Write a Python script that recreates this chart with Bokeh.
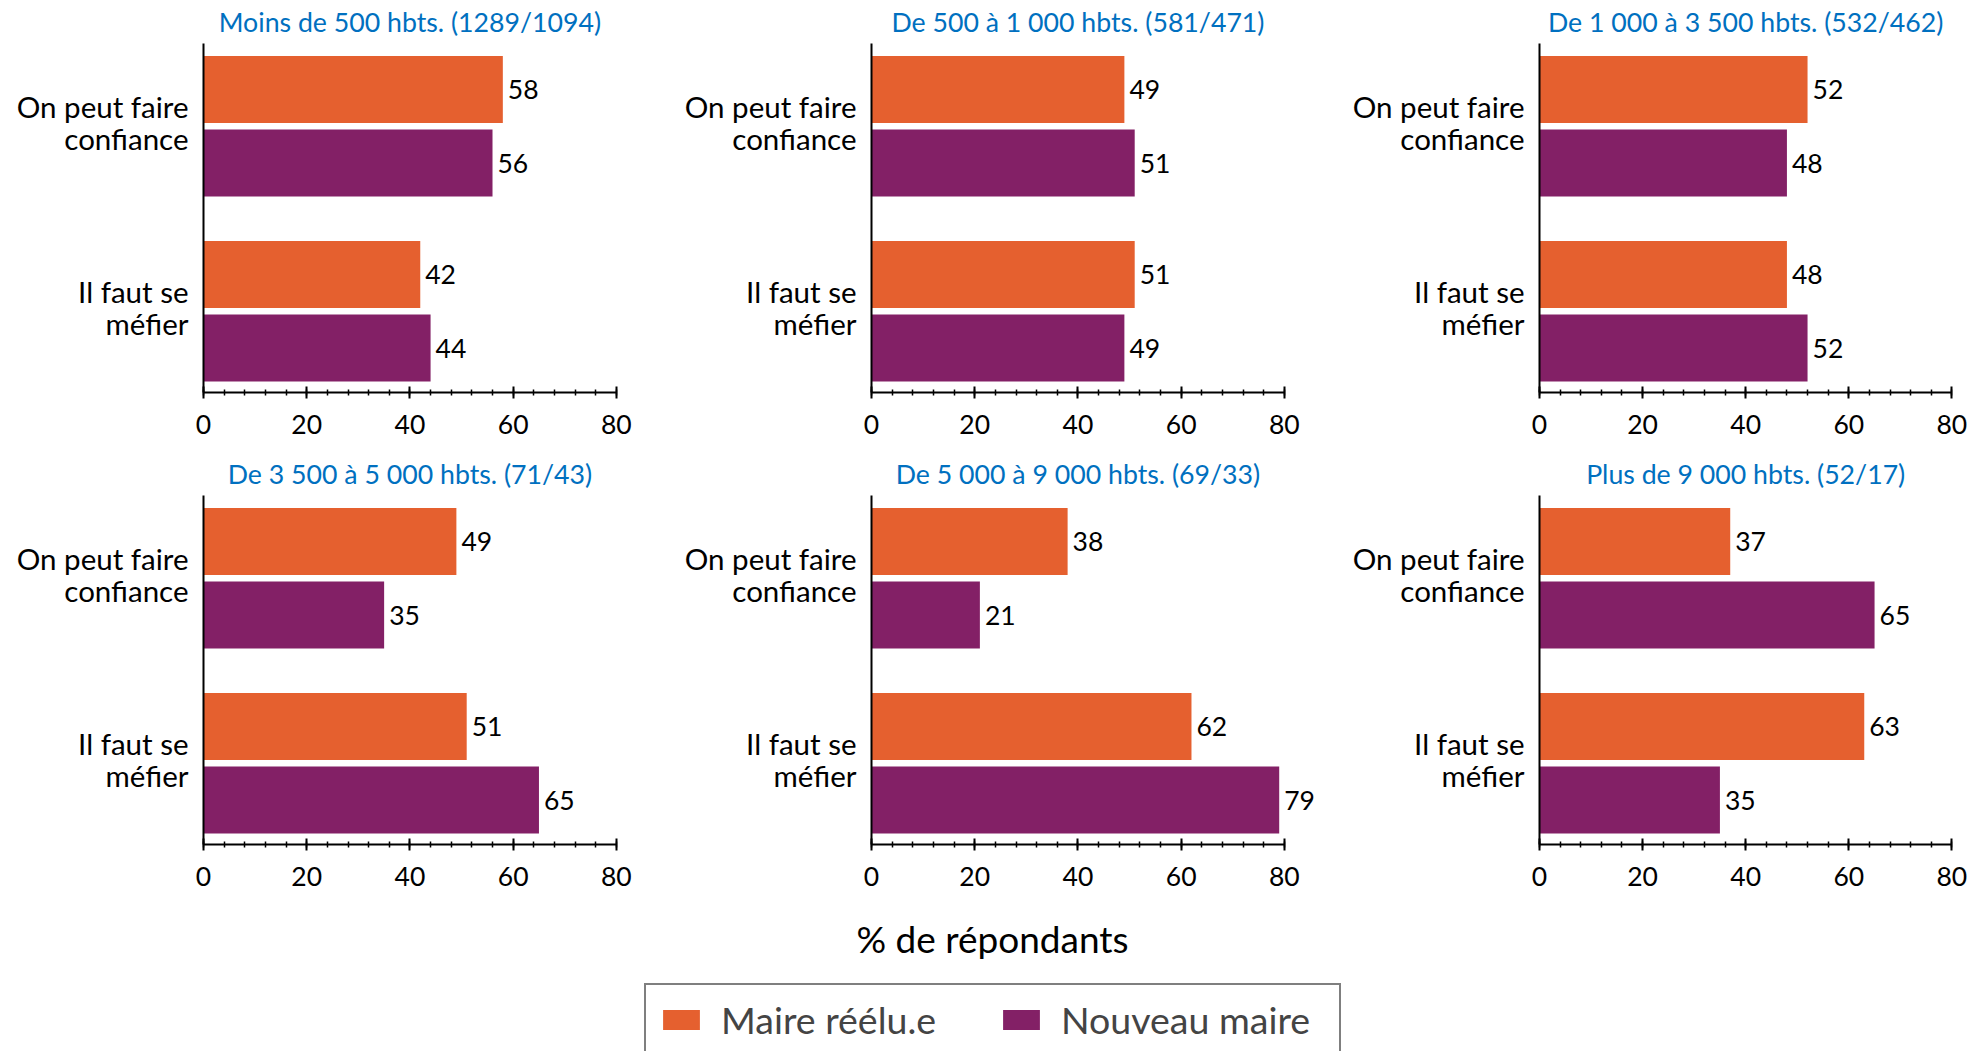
from bokeh.plotting import figure
from bokeh.models import (ColumnDataSource, Range1d, FixedTicker, LabelSet, Label,
                          Legend, LegendItem)
from bokeh.layouts import column, row
from bokeh.embed import file_html
from bokeh.resources import INLINE
from bokeh.core.properties import value

# ---------------- data ----------------
titles = [
    "Moins de 500 hbts. (1289/1094)",
    "De 500 à 1 000 hbts. (581/471)",
    "De 1 000 à 3 500 hbts. (532/462)",
    "De 3 500 à 5 000 hbts. (71/43)",
    "De 5 000 à 9 000 hbts. (69/33)",
    "Plus de 9 000 hbts. (52/17)",
]
categories = ["On peut faire\nconfiance", "Il faut se\nméfier"]
series_names = ["Maire réélu.e", "Nouveau maire"]
maire_reelu = [[58, 42], [49, 51], [52, 48], [49, 51], [38, 62], [37, 63]]
nouveau_maire = [[56, 44], [51, 49], [48, 52], [35, 65], [21, 79], [65, 35]]
x_ticks = [0, 20, 40, 60, 80]
x_label = "% de répondants"

# ---------------- style ----------------
ORANGE = "#E5602F"
PURPLE = "#832066"
BLUE = "#0070C0"
FONT = "Lato"
TICK_TXT = "26.5px"
CAT_TXT = "29.5px"

group_pos = [1, 0]          # top category first
LABEL_SHIFT = 0.02          # small upward nudge of the category labels
OFF = 0.199
BAR_H = 0.362
PX_PER_UNIT = 412.5 / 80.0
LEFT = 203
TITLE_H = 43


def make_title(i, width, x_end):
    right = int(round(width - LEFT - x_end * PX_PER_UNIT))
    t = figure(width=width, height=TITLE_H,
               x_range=Range1d(0, x_end), y_range=Range1d(0, 1),
               output_backend="svg", toolbar_location=None,
               x_axis_location=None, y_axis_location=None,
               min_border_left=LEFT, min_border_right=right,
               min_border_top=0, min_border_bottom=0)
    t.outline_line_color = None
    t.grid.visible = False
    t.add_layout(Label(x=(x_ticks[0] + x_ticks[-1]) / 2, y=0.5, text=titles[i],
                       text_align="center", text_baseline="middle",
                       text_font=FONT, text_font_size="26.7px",
                       text_color=BLUE))
    return t


def make_panel(i, width, x_end):
    right = int(round(width - LEFT - x_end * PX_PER_UNIT))
    p = figure(width=width, height=452 - TITLE_H,
               x_range=Range1d(0, x_end), y_range=Range1d(-0.439, 1.447),
               output_backend="svg", toolbar_location=None,
               min_border_left=LEFT, min_border_right=right,
               min_border_top=0, min_border_bottom=60)
    p.outline_line_color = None
    p.grid.visible = False
    p.background_fill_color = "white"
    p.border_fill_color = "white"

    src = ColumnDataSource(dict(
        y_o=[g + OFF for g in group_pos],
        y_p=[g - OFF for g in group_pos],
        v_o=maire_reelu[i],
        v_p=nouveau_maire[i],
        t_o=[str(v) for v in maire_reelu[i]],
        t_p=[str(v) for v in nouveau_maire[i]],
    ))
    p.hbar(y="y_o", right="v_o", left=0, height=BAR_H, source=src,
           fill_color=ORANGE, line_color=None)
    p.hbar(y="y_p", right="v_p", left=0, height=BAR_H, source=src,
           fill_color=PURPLE, line_color=None)

    for xcol, ycol, tcol in (("v_o", "y_o", "t_o"), ("v_p", "y_p", "t_p")):
        p.add_layout(LabelSet(x=xcol, y=ycol, text=tcol, source=src,
                              x_offset=5, text_baseline="middle",
                              text_font=value(FONT), text_font_size=value(TICK_TXT),
                              text_color="black"))

    xa = p.xaxis[0]
    xa.ticker = FixedTicker(ticks=x_ticks, minor_ticks=list(range(0, 81, 4)))
    xa.bounds = (x_ticks[0], x_ticks[-1])
    xa.axis_line_width = 2
    xa.axis_line_color = "black"
    xa.major_tick_line_width = 2
    xa.major_tick_line_color = "black"
    xa.major_tick_in = 6
    xa.major_tick_out = 6
    xa.minor_tick_line_width = 1.5
    xa.minor_tick_line_color = "black"
    xa.minor_tick_in = 3
    xa.minor_tick_out = 3
    xa.major_label_text_font = FONT
    xa.major_label_text_font_size = TICK_TXT
    xa.major_label_text_color = "black"
    xa.major_label_standoff = 16

    ya = p.yaxis[0]
    tick_pos = [round(g + LABEL_SHIFT, 4) for g in group_pos]
    ya.ticker = FixedTicker(ticks=tick_pos)
    ya.major_label_overrides = {tick_pos[0]: categories[0], tick_pos[1]: categories[1]}
    ya.axis_line_width = 2
    ya.axis_line_color = "black"
    ya.major_tick_line_color = None
    ya.minor_tick_line_color = None
    ya.major_tick_in = 0
    ya.major_tick_out = 0
    ya.major_label_text_font = FONT
    ya.major_label_text_font_size = CAT_TXT
    ya.major_label_text_color = "black"
    ya.major_label_text_line_height = 0.9
    ya.major_label_standoff = 15
    ya.major_label_text_align = "right"
    return p


widths = [668, 668, 648]
x_ends = [87, 87, 84]
cells = []
for i in range(6):
    w, xe = widths[i % 3], x_ends[i % 3]
    cells.append(column(make_title(i, w, xe), make_panel(i, w, xe)))

# bottom strip: axis title + legend
b = figure(width=1984, height=147, x_range=Range1d(0, 1), y_range=Range1d(0, 1),
           output_backend="svg", toolbar_location=None,
           x_axis_location=None, y_axis_location=None,
           min_border=0)
b.outline_line_color = None
b.grid.visible = False
b.add_layout(Label(x=0.5, y=113, y_units="screen", text=x_label,
                   text_align="center", text_baseline="middle",
                   text_font=FONT, text_font_size="37px", text_color="black"))
swatch = ColumnDataSource(dict(y=[0.5], right=[0]))
r1 = b.hbar(y="y", right="right", left=0, height=0.5, source=swatch,
            fill_color=ORANGE, line_color=None)
r2 = b.hbar(y="y", right="right", left=0, height=0.5, source=swatch,
            fill_color=PURPLE, line_color=None)
leg = Legend(items=[LegendItem(label=series_names[0], renderers=[r1]),
                    LegendItem(label=series_names[1], renderers=[r2])],
             location=(644, -5), orientation="horizontal",
             border_line_color="black", border_line_width=2,
             background_fill_color="white", background_fill_alpha=1,
             label_text_font=FONT, label_text_font_size="37.5px",
             glyph_width=46, glyph_height=25, label_standoff=17,
             label_width=266, spacing=11, padding=12, margin=0)
b.add_layout(leg)

layout = column(row(*cells[:3]), row(*cells[3:]), b)
open("out.html", "w").write(file_html(layout, INLINE))
